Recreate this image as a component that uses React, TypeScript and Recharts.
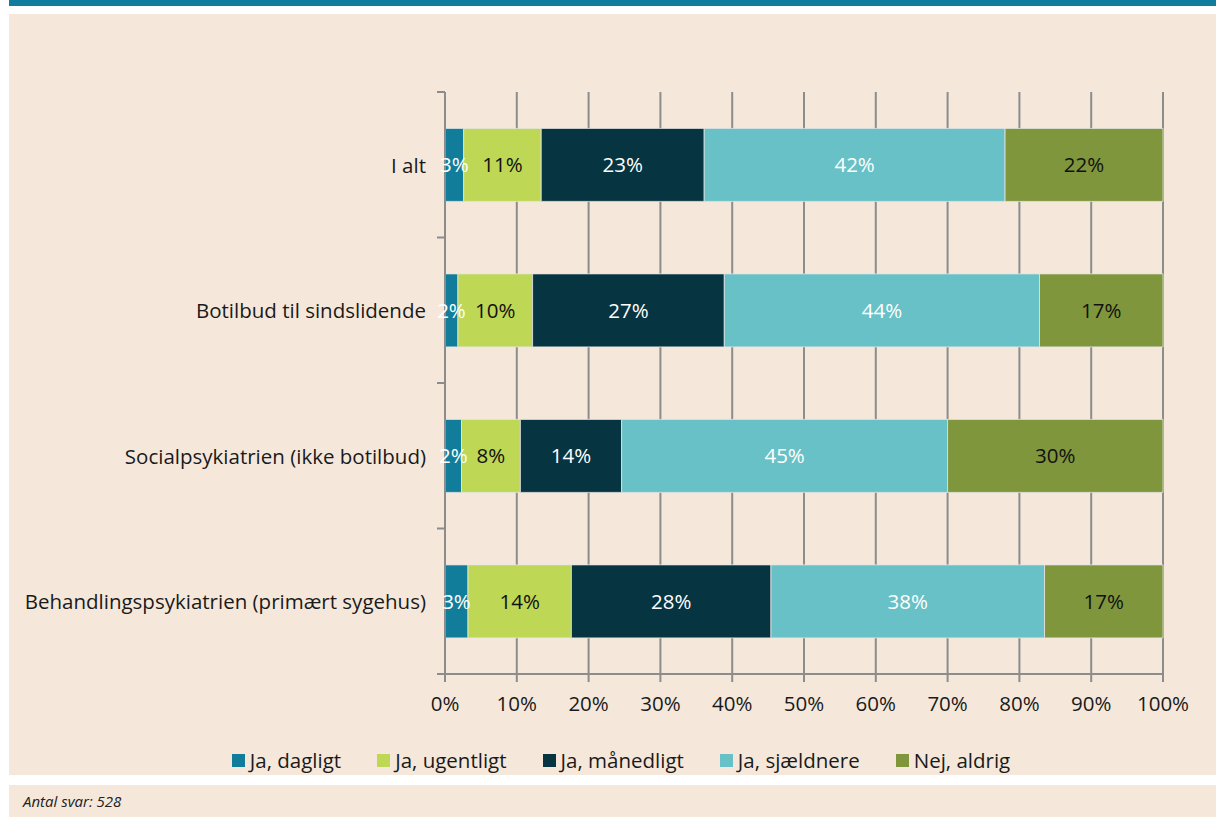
import React from 'react';
import { BarChart, Bar, XAxis, YAxis, CartesianGrid, LabelList, Legend } from 'recharts';

const categories = [
  'I alt',
  'Botilbud til sindslidende',
  'Socialpsykiatrien (ikke botilbud)',
  'Behandlingspsykiatrien (primært sygehus)',
];
const seriesNames = ['Ja, dagligt', 'Ja, ugentligt', 'Ja, månedligt', 'Ja, sjældnere', 'Nej, aldrig'];
const dagligt = [2.6, 1.8, 2.3, 3.2];
const ugentligt = [10.8, 10.4, 8.2, 14.4];
const maanedligt = [22.7, 26.7, 14.1, 27.8];
const sjaeldnere = [41.9, 43.9, 45.4, 38.1];
const aldrig = [22.0, 17.2, 30.0, 16.5];
const xTicks = [0, 10, 20, 30, 40, 50, 60, 70, 80, 90, 100];

const seriesValues = [dagligt, ugentligt, maanedligt, sjaeldnere, aldrig];
const seriesKeys = ['s0', 's1', 's2', 's3', 's4'];
const colors = ['#117D9A', '#BED755', '#073441', '#67C1C6', '#7F963C'];
const labelColors = ['#ffffff', '#111111', '#ffffff', '#ffffff', '#111111'];

const data = categories.map((c, i) => {
  const row: any = { name: c };
  seriesKeys.forEach((k, j) => {
    row[k] = seriesValues[j][i];
  });
  return row;
});

const FONT = '"Open Sans", "Noto Sans", sans-serif';
const BEIGE = '#F5E8DB';
const GRID = '#8C8C8C';
const FS = 20.5;
const AXIS_X = 436;
const PLOT_TOP = 78;
const PLOT_H = 582;
const BAND = PLOT_H / categories.length;

const YTick = (props: any) => {
  const { x, y, payload, index } = props;
  const top = y - BAND / 2;
  const bottom = y + BAND / 2;
  return (
    <g>
      <line x1={AXIS_X - 8} x2={AXIS_X} y1={top} y2={top} stroke={GRID} strokeWidth={2} />
      {index === categories.length - 1 && (
        <line x1={AXIS_X - 8} x2={AXIS_X} y1={bottom} y2={bottom} stroke={GRID} strokeWidth={2} />
      )}
      <text x={x} y={y} textAnchor="end" dominantBaseline="central" fontSize={FS} fill="#1a1a1a" fontFamily={FONT}>
        {payload.value}
      </text>
    </g>
  );
};

const LegendContent = () => (
  <div
    style={{
      height: 51,
      display: 'flex',
      justifyContent: 'center',
      alignItems: 'flex-start',
      paddingTop: 23,
      paddingLeft: 17,
      boxSizing: 'border-box',
      fontFamily: FONT,
      fontSize: FS,
      color: '#1a1a1a',
    }}
  >
    {seriesNames.map((n, i) => (
      <div key={n} style={{ display: 'flex', alignItems: 'center', marginRight: i < seriesNames.length - 1 ? 36 : 0 }}>
        <span style={{ width: 13, height: 13, background: colors[i], display: 'inline-block', marginRight: 5 }} />
        <span style={{ lineHeight: '26px' }}>{n}</span>
      </div>
    ))}
  </div>
);

export default function App() {
  return (
    <div style={{ position: 'absolute', left: 0, top: 0, width: 1216, height: 817, background: '#ffffff', fontFamily: FONT }}>
      <div style={{ position: 'absolute', left: 9, top: 0, width: 1207, height: 6, background: '#0F7D9B' }} />
      <div style={{ position: 'absolute', left: 9, top: 14, width: 1207, height: 761, background: BEIGE }}>
        <BarChart
          width={1207}
          height={761}
          data={data}
          layout="vertical"
          margin={{ top: PLOT_TOP, right: 53, left: 0, bottom: 0 }}
          barCategoryGap="25%"
        >
          <CartesianGrid horizontal={false} vertical={true} stroke={GRID} strokeWidth={2} />
          <XAxis
            type="number"
            domain={[0, 100]}
            ticks={xTicks}
            tickFormatter={(v: number) => `${v}%`}
            height={50}
            tickSize={8}
            tickMargin={14}
            axisLine={{ stroke: GRID, strokeWidth: 2 }}
            tickLine={{ stroke: GRID, strokeWidth: 2 }}
            tick={{ fontSize: FS, fill: '#1a1a1a', fontFamily: FONT }}
            interval={0}
          />
          <YAxis
            type="category"
            dataKey="name"
            width={AXIS_X}
            tickSize={0}
            tickMargin={19}
            tickLine={false}
            axisLine={{ stroke: GRID, strokeWidth: 2 }}
            tick={<YTick />}
            interval={0}
          />
          <Legend verticalAlign="bottom" height={51} content={<LegendContent />} wrapperStyle={{ left: 0, width: 1207 }} />
          {seriesKeys.map((k, i) => (
            <Bar key={k} dataKey={k} name={seriesNames[i]} stackId="a" fill={colors[i]} stroke="#e4e4e4" strokeWidth={0.8} isAnimationActive={false}>
              <LabelList
                dataKey={k}
                position="center"
                formatter={(v: any) => `${Math.round(Number(v))}%`}
                fill={labelColors[i]}
                fontSize={FS}
                fontFamily={FONT}
              />
            </Bar>
          ))}
        </BarChart>
      </div>
      <div
        style={{
          position: 'absolute',
          left: 9,
          top: 785,
          width: 1207,
          height: 32,
          background: BEIGE,
          fontFamily: FONT,
          fontStyle: 'italic',
          fontSize: 15,
          color: '#222',
          lineHeight: '32px',
          paddingLeft: 14,
          boxSizing: 'border-box',
        }}
      >
        Antal svar: 528
      </div>
    </div>
  );
}
